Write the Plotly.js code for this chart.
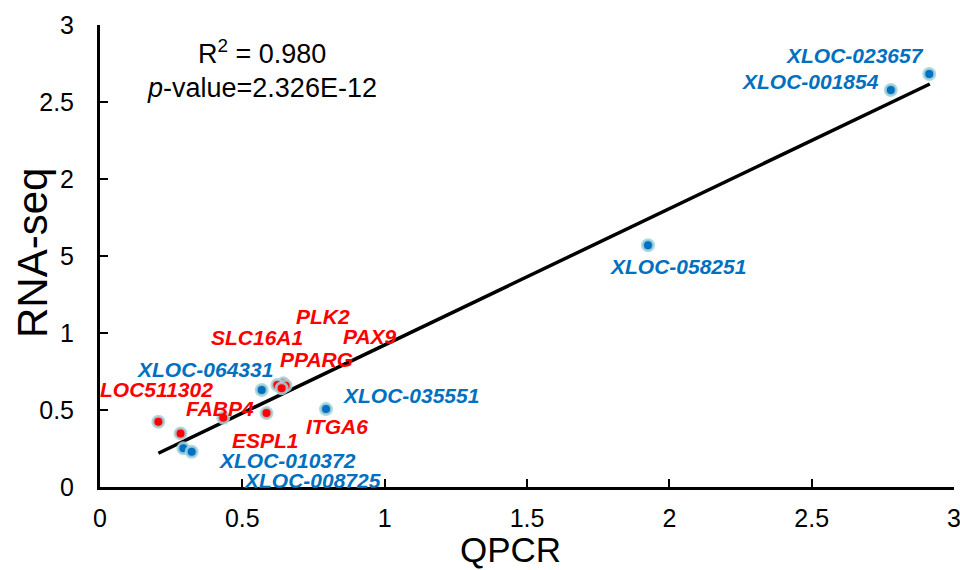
<!DOCTYPE html>
<html>
<head>
<meta charset="utf-8">
<script src="https://cdn.plot.ly/plotly-3.0.1.min.js"></script>
<style>html,body{margin:0;padding:0;background:#fff;}#chart{width:960px;height:570px;}</style>
</head>
<body>
<div id="chart"></div>
<script>
// ---- data ----
var blueGenes = ['XLOC-023657','XLOC-001854','XLOC-058251','XLOC-035551','XLOC-064331','XLOC-010372','XLOC-008725'];
var blueQPCR  = [2.913, 2.778, 1.925, 0.794, 0.568, 0.293, 0.322];
var blueRNA   = [2.682, 2.578, 1.570, 0.506, 0.630, 0.251, 0.229];

var redGenes = ['LOC511302','ESPL1','FABP4','ITGA6','PLK2','SLC16A1','PAX9','PPARG'];
var redQPCR  = [0.205, 0.283, 0.433, 0.585, 0.644, 0.623, 0.652, 0.638];
var redRNA   = [0.424, 0.348, 0.450, 0.480, 0.673, 0.662, 0.658, 0.641];

var trendQPCR = [0.205, 2.915];
var trendRNA  = [0.219, 2.617];

var yTickVals = [0, 0.5, 1, 1.5, 2, 2.5, 3];
var yTickText = ['0', '0.5', '1', '5', '2', '2.5', '3'];
var xTickVals = [0, 0.5, 1, 1.5, 2, 2.5, 3];
var xTickText = ['0', '0.5', '1', '1.5', '2', '2.5', '3'];

var statR2 = 'R<sup>2</sup> = 0.980';
var statP  = '<i>p</i>-value=2.326E-12';

// label anchor positions (text placement, data coords)
var blueLabelX = [2.652, 2.497, 2.030, 1.092, 0.369, 0.660, 0.748];
var blueLabelY = [2.805, 2.630, 1.435, 0.597, 0.760, 0.175, 0.039];
var redLabelX  = [0.200, 0.580, 0.421, 0.832, 0.784, 0.552, 0.948, 0.759];
var redLabelY  = [0.630, 0.305, 0.513, 0.390, 1.110, 0.974, 0.980, 0.825];

// ---- styles ----
var BLUE = '#0070C0', RED = '#FF0000', HALO = 'rgba(165,212,218,0.85)';
var FONT = 'Liberation Sans, Arial, sans-serif';

var traces = [
  {x: trendQPCR, y: trendRNA, mode: 'lines', line: {color: '#000', width: 3.5}, hoverinfo: 'skip', cliponaxis: false},
  {x: blueQPCR, y: blueRNA, mode: 'markers', text: blueGenes, cliponaxis: false,
   marker: {color: BLUE, size: 11, line: {color: HALO, width: 3}}},
  {x: redQPCR, y: redRNA, mode: 'markers', text: redGenes, cliponaxis: false,
   marker: {color: RED, size: 11, line: {color: HALO, width: 3}}}
];

var ann = [];
function addLabels(names, xs, ys, color) {
  for (var i = 0; i < names.length; i++) {
    ann.push({x: xs[i], y: ys[i], xref: 'x', yref: 'y', text: '<b><i>' + names[i] + '</i></b>',
      showarrow: false, xanchor: 'center', yanchor: 'middle',
      font: {family: FONT, size: 21, color: color}});
  }
}
addLabels(blueGenes, blueLabelX, blueLabelY, BLUE);
addLabels(redGenes, redLabelX, redLabelY, RED);

var L = 100, R = 6, T = 25, B = 83, W = 960, H = 570;
var pw = W - L - R, ph = H - T - B;
function px(x) { return (x - L) / pw; }
function py(y) { return (H - y - B) / ph; }

ann.push({x: px(262), y: py(52), xref: 'paper', yref: 'paper', text: statR2, showarrow: false,
  xanchor: 'center', yanchor: 'middle', font: {family: FONT, size: 27, color: '#000'}});
ann.push({x: px(262), y: py(88), xref: 'paper', yref: 'paper', text: statP, showarrow: false,
  xanchor: 'center', yanchor: 'middle', font: {family: FONT, size: 27, color: '#000'}});

// axis titles as annotations for exact placement
ann.push({x: px(510), y: py(549), xref: 'paper', yref: 'paper', text: 'QPCR',
  showarrow: false, xanchor: 'center', yanchor: 'middle', font: {family: FONT, size: 35, color: '#000'}});
ann.push({x: px(32), y: py(253), xref: 'paper', yref: 'paper', text: 'RNA-seq',
  showarrow: false, textangle: -90, xanchor: 'center', yanchor: 'middle', font: {family: FONT, size: 42, color: '#000'}});

var layout = {
  width: W, height: H,
  margin: {l: L, r: R, t: T, b: B, pad: 0},
  paper_bgcolor: '#fff', plot_bgcolor: '#fff',
  showlegend: false,
  xaxis: {range: [0, 3], tickvals: xTickVals, ticktext: xTickText, ticks: 'inside', ticklen: 8, tickwidth: 2,
    tickcolor: '#000', showline: true, linecolor: '#000', linewidth: 3, showgrid: false, zeroline: false,
    tickfont: {family: FONT, size: 25, color: '#000'}, ticklabelstandoff: 7, ticklabeloverflow: 'allow',
    automargin: false, fixedrange: true},
  yaxis: {range: [0, 3], tickvals: yTickVals, ticktext: yTickText, ticks: 'inside', ticklen: 8, tickwidth: 2,
    tickcolor: '#000', showline: true, linecolor: '#000', linewidth: 3, showgrid: false, zeroline: false,
    tickfont: {family: FONT, size: 25, color: '#000'}, ticklabelstandoff: 18, ticklabeloverflow: 'allow',
    automargin: false, fixedrange: true},
  annotations: ann
};

Plotly.newPlot('chart', traces, layout, {displayModeBar: false, staticPlot: true});
</script>
</body>
</html>
